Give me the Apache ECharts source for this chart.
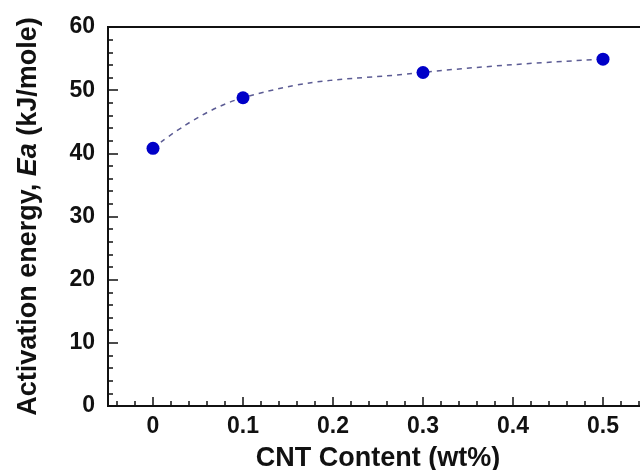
<!DOCTYPE html>
<html>
<head>
<meta charset="utf-8">
<script src="https://cdn.jsdelivr.net/npm/echarts@6/dist/echarts.min.js"></script>
<style>
  html, body { margin: 0; padding: 0; background: #fff; }
  #main { width: 640px; height: 470px; }
</style>
</head>
<body>
<div id="main"></div>
<script>
// data
const cntContent = [0, 0.1, 0.3, 0.5];
const activationEnergy = [40.8, 48.8, 52.8, 54.9];
const xMajorTicks = [0, 0.1, 0.2, 0.3, 0.4, 0.5];
const xMinorTicks = [-0.04, -0.02, 0.02, 0.04, 0.06, 0.08, 0.12, 0.14, 0.16, 0.18,
    0.22, 0.24, 0.26, 0.28, 0.32, 0.34, 0.36, 0.38, 0.42, 0.44, 0.46, 0.48, 0.52, 0.54];

const font = 'Liberation Sans, Arial, sans-serif';
const ink = '#111';

const chart = echarts.init(document.getElementById('main'));

const option = {
    backgroundColor: '#fff',
    animation: false,
    grid: {
        left: 108,
        top: 27,
        width: 540,
        height: 379,
        outerBoundsMode: 'none',
        containLabel: false,
        show: true,
        borderColor: ink,
        borderWidth: 2
    },
    xAxis: [
        {
            type: 'value',
            min: -0.05,
            max: 0.55,
            name: 'CNT Content (wt%)',
            nameLocation: 'middle',
            nameGap: 39,
            nameTextStyle: { fontFamily: font, fontWeight: 'bold', fontSize: 27, color: ink },
            axisLine: { show: true, onZero: false, lineStyle: { color: ink, width: 2 } },
            axisTick: {
                show: true, inside: true, length: 9,
                customValues: xMajorTicks,
                lineStyle: { color: ink, width: 1.5 }
            },
            axisLabel: {
                customValues: xMajorTicks,
                margin: 9,
                fontFamily: font, fontWeight: 'bold', fontSize: 23, color: ink,
                formatter: function (v) { return String(v); }
            },
            splitLine: { show: false }
        },
        {
            // minor ticks only
            type: 'value',
            min: -0.05,
            max: 0.55,
            position: 'bottom',
            axisLine: { show: false, onZero: false },
            axisTick: {
                show: true, inside: true, length: 5,
                customValues: xMinorTicks,
                lineStyle: { color: ink, width: 1.5 }
            },
            axisLabel: { show: false },
            splitLine: { show: false }
        }
    ],
    yAxis: {
        type: 'value',
        min: 0,
        max: 60,
        interval: 10,
        name: 'Activation energy, {i|Ea} (kJ/mole)',
        nameLocation: 'middle',
        nameGap: 66,
        nameTextStyle: {
            fontFamily: font, fontWeight: 'bold', fontSize: 27, color: ink,
            rich: {
                i: { fontFamily: font, fontWeight: 'bold', fontStyle: 'italic', fontSize: 27, color: ink }
            }
        },
        axisLine: { show: true, onZero: false, lineStyle: { color: ink, width: 2 } },
        axisTick: { show: true, inside: true, length: 10, lineStyle: { color: ink, width: 1.5 } },
        minorTick: { show: true, splitNumber: 5, length: 5, lineStyle: { color: ink, width: 1.5 } },
        axisLabel: { margin: 13, fontFamily: font, fontWeight: 'bold', fontSize: 23, color: ink },
        splitLine: { show: false },
        minorSplitLine: { show: false }
    },
    series: [
        {
            type: 'line',
            xAxisIndex: 0,
            data: cntContent.map(function (x, i) { return [x, activationEnergy[i]]; }),
            smooth: 0.45,
            symbol: 'circle',
            symbolSize: 13,
            itemStyle: { color: '#0000c8' },
            lineStyle: { color: '#5c5c94', width: 1.5, type: [5, 5] }
        }
    ]
};

chart.setOption(option);
</script>
</body>
</html>
